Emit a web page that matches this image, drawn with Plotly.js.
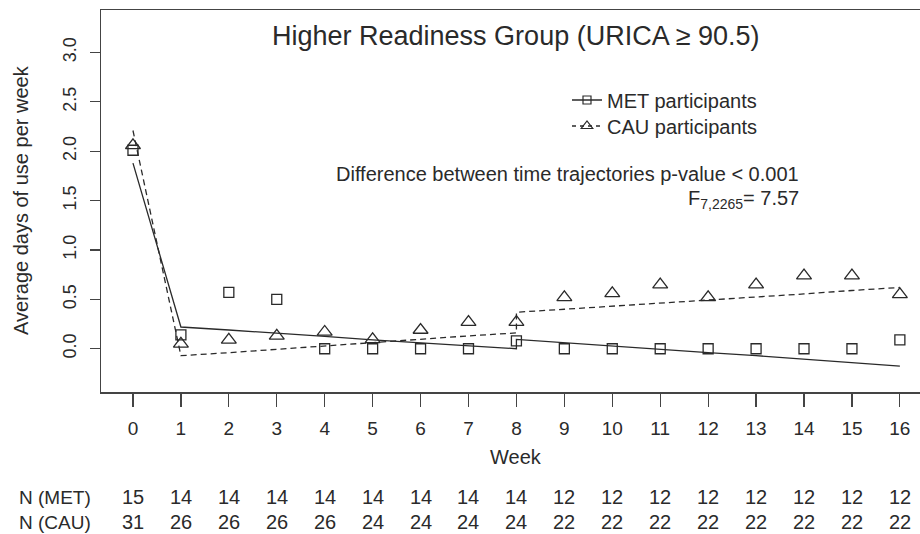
<!DOCTYPE html>
<html>
<head>
<meta charset="utf-8">
<script src="https://cdn.plot.ly/plotly-3.0.1.min.js"></script>
<style>
  html, body { margin: 0; padding: 0; background: #fff; }
  #chart { width: 920px; height: 534px; }
</style>
</head>
<body>
<div id="chart"></div>
<script>
// ---- Data ----
const weeks = [0,1,2,3,4,5,6,7,8,9,10,11,12,13,14,15,16];
const metMeans = [2.01,0.14,0.57,0.50,0.00,0.00,0.00,0.00,0.08,0.00,0.00,0.00,0.00,0.00,0.00,0.00,0.09];
const cauMeans = [2.06,0.05,0.09,0.13,0.17,0.095,0.19,0.27,0.27,0.52,0.56,0.65,0.52,0.65,0.74,0.74,0.55];

// fitted piecewise trajectories (break at week 8)
const fitWeeks = [0,1,2,3,4,5,6,7,8,8,9,10,11,12,13,14,15,16];
const metFit = [1.88,0.22,0.19,0.16,0.125,0.09,0.06,0.03,0.00,0.095,0.06,0.03,-0.005,-0.04,-0.07,-0.105,-0.14,-0.175];
const cauFit = [2.21,-0.07,-0.04,-0.005,0.03,0.06,0.095,0.13,0.16,0.37,0.40,0.43,0.465,0.495,0.525,0.555,0.59,0.62];

const nMET = [15,14,14,14,14,14,14,14,14,12,12,12,12,12,12,12,12];
const nCAU = [31,26,26,26,26,24,24,24,24,22,22,22,22,22,22,22,22];

const yTicks = [0,0.5,1.0,1.5,2.0,2.5,3.0];
const yTickText = ['0.0','0.5','1.0','1.5','2.0','2.5','3.0'];

const titleText = 'Higher Readiness Group (URICA \u2265 90.5)';
const legendNames = ['MET participants','CAU participants'];

// ---- Styles ----
const ink = '#2a2a2a';
const fontFam = 'Liberation Sans, Arial, sans-serif';

// pixel -> paper helpers (plot area: x 101..920, y 10..392)
const L = 101, R = 920, T = 10, B = 392;
const px = p => (p - L) / (R - L);
const py = p => (B - p) / (B - T);

const traces = [
  {x: fitWeeks, y: metFit, mode: 'lines', line: {color: ink, width: 1.3}, showlegend: false, hoverinfo: 'skip'},
  {x: fitWeeks, y: cauFit, mode: 'lines', line: {color: ink, width: 1.3, dash: '6px,4px'}, showlegend: false, hoverinfo: 'skip'},
  {x: weeks, y: metMeans, mode: 'markers', marker: {symbol: 'square-open', size: 10, color: ink, line: {width: 1.3}}, showlegend: false},
  {x: weeks, y: cauMeans, mode: 'markers', marker: {symbol: 'triangle-up-open', size: 13, color: ink, line: {width: 1.3}}, showlegend: false},
  // legend entries
  {x: [null], y: [null], mode: 'lines+markers', name: legendNames[0], legend: 'legend',
   line: {color: ink, width: 1.3}, marker: {symbol: 'square-open', size: 8, color: ink, line: {width: 1.2}}},
  {x: [null], y: [null], mode: 'lines+markers', name: legendNames[1], legend: 'legend2',
   line: {color: ink, width: 1.3, dash: '4px,4px'}, marker: {symbol: 'triangle-up-open', size: 10, color: ink, line: {width: 1.2}}}
];

const txt = 20;
const annotations = [];
// title
annotations.push({text: titleText, xref: 'paper', yref: 'paper', x: px(516), y: py(36),
  xanchor: 'center', yanchor: 'middle', showarrow: false, font: {size: 27, color: ink}});
// stats text
annotations.push({text: 'Difference between time trajectories p-value &lt; 0.001', xref: 'paper', yref: 'paper',
  x: px(801), y: py(174), xanchor: 'right', yanchor: 'middle', showarrow: false, font: {size: txt, color: ink}});
annotations.push({text: 'F<sub>7,2265</sub>= 7.57', xref: 'paper', yref: 'paper',
  x: px(801), y: py(199), xanchor: 'right', yanchor: 'middle', showarrow: false, font: {size: txt, color: ink}});
// axis titles
annotations.push({text: 'Week', xref: 'x', yref: 'paper', x: 8, y: py(457),
  xanchor: 'center', yanchor: 'middle', showarrow: false, font: {size: txt, color: ink}});
annotations.push({text: 'Average days of use per week', xref: 'paper', yref: 'paper', x: px(21), y: py(200),
  xanchor: 'center', yanchor: 'middle', textangle: -90, showarrow: false, font: {size: txt, color: ink}});
// N rows
annotations.push({text: 'N (MET)', xref: 'paper', yref: 'paper', x: px(17), y: py(497),
  xanchor: 'left', yanchor: 'middle', showarrow: false, font: {size: 19, color: ink}});
annotations.push({text: 'N (CAU)', xref: 'paper', yref: 'paper', x: px(17), y: py(522),
  xanchor: 'left', yanchor: 'middle', showarrow: false, font: {size: 19, color: ink}});
weeks.forEach((w, i) => {
  annotations.push({text: String(nMET[i]), xref: 'x', yref: 'paper', x: w, y: py(497),
    xanchor: 'center', yanchor: 'middle', showarrow: false, font: {size: txt, color: ink}});
  annotations.push({text: String(nCAU[i]), xref: 'x', yref: 'paper', x: w, y: py(522),
    xanchor: 'center', yanchor: 'middle', showarrow: false, font: {size: txt, color: ink}});
});

const legBase = {xanchor: 'left', yanchor: 'middle', bgcolor: 'rgba(0,0,0,0)',
                 font: {size: txt, color: ink}, itemwidth: 30};

const layout = {
  width: 920, height: 534,
  margin: {l: L, r: 920 - R, t: T, b: 534 - B, pad: 0},
  paper_bgcolor: '#fff', plot_bgcolor: '#fff',
  font: {family: fontFam, color: ink, size: txt},
  showlegend: true,
  legend: Object.assign({x: px(567), y: py(100)}, legBase),
  legend2: Object.assign({x: px(567), y: py(126)}, legBase),
  xaxis: {
    range: [-0.667, 16.42], tickvals: weeks, ticktext: weeks.map(String),
    showline: true, mirror: true, linecolor: '#444', linewidth: 1.5,
    ticks: 'outside', ticklen: 13, tickwidth: 1.2, tickcolor: '#444',
    ticklabelstandoff: 6,
    showgrid: false, zeroline: false, tickfont: {size: 19, color: ink}
  },
  yaxis: {
    range: [-0.438, 3.43], tickvals: yTicks, ticktext: yTickText,
    showline: true, mirror: false, linecolor: '#444', linewidth: 1.5,
    ticks: 'outside', ticklen: 10, tickwidth: 1.2, tickcolor: '#444',
    tickangle: -90, ticklabelstandoff: 6,
    showgrid: false, zeroline: false, tickfont: {size: 18, color: ink}
  },
  annotations: annotations
};

Plotly.newPlot('chart', traces, layout, {staticPlot: true, displayModeBar: false});
</script>
</body>
</html>
